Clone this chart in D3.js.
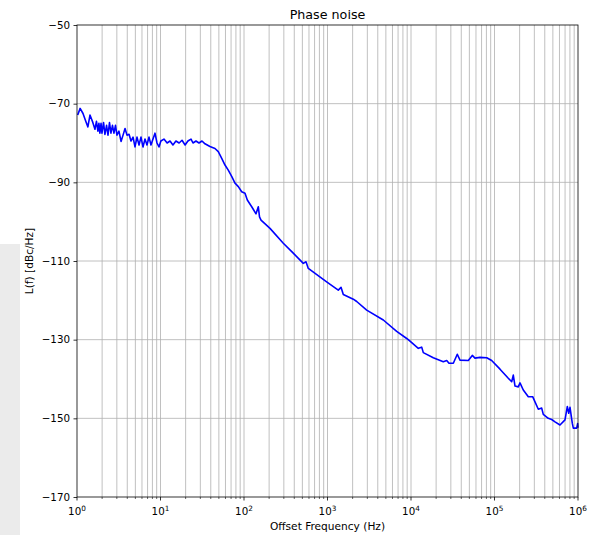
<!DOCTYPE html>
<html><head><meta charset="utf-8">
<script src="https://cdn.jsdelivr.net/npm/d3@7"></script>
<style>
html,body{margin:0;padding:0;background:#fff;}
svg{display:block;font-family:"DejaVu Sans",sans-serif;}
</style></head>
<body><svg id="c" width="590" height="535"></svg>
<script>
const freq = [1.02,1.09,1.18,1.28,1.35,1.43,1.53,1.64,1.71,1.78,1.83,1.88,1.94,1.99,2.08,2.16,2.26,2.35,2.45,2.55,2.66,2.77,2.89,3.01,3.18,3.37,3.56,3.76,3.97,4.20,4.43,4.69,4.95,5.23,5.53,5.84,6.17,6.52,6.89,7.28,7.69,8.13,8.59,9.08,9.59,10.1,11.0,12.0,13.0,14.1,15.3,16.7,18.1,19.7,21.3,23.2,24.5,26.6,28.9,31.4,34.1,39.1,44.9,49.2,54.1,59.2,64.8,71.2,78.0,85.5,93.8,102.8,109.6,123.7,139.3,148.4,153.4,159.9,204.8,295.6,389,513,553,589,977,1346,1452,1546,2037,2238,2947,4660,6741,8880,9730,12230,13430,14040,18490,24380,26790,28520,32130,35840,38620,48550,54200,58380,67000,80700,92500,116400,146300,160700,167900,176100,192800,202000,221200,254000,286500,305500,334800,367400,384000,440500,484000,530600,608500,698500,744500,774000,802000,855000,879000,964000,991000,1000000];
const noise = [-72.9,-71.2,-72.5,-74.6,-75.9,-72.9,-74.5,-76.5,-74.5,-77,-75,-77.5,-75,-77.5,-74.8,-77.8,-75.5,-78,-74.8,-77.5,-75.5,-77.5,-75.5,-78,-77,-79.6,-78,-76.3,-78,-77.8,-79.5,-78.5,-81,-78.5,-80.5,-78.5,-81,-79,-80.5,-78.5,-80.5,-79,-77.5,-80,-81,-79.5,-79,-80,-79.5,-80.5,-79.5,-80,-79.3,-80.5,-79.5,-79,-80,-79.5,-80,-79.5,-80.2,-80.9,-81.4,-82.2,-83.9,-85.6,-86.9,-88.5,-90.2,-91.1,-92.4,-92.8,-94.5,-96.2,-98.0,-96.2,-98.8,-99.6,-101.7,-105.5,-108,-110.6,-110.2,-111.9,-115.3,-117.4,-116.7,-118.5,-119.7,-120.3,-122.5,-125,-127.9,-129.7,-130.4,-132.2,-131.9,-133.3,-134.6,-135.6,-135.3,-136,-136,-133.7,-135.2,-135.3,-134,-134.7,-134.5,-134.6,-135.3,-137.5,-139.8,-140.7,-139,-141.8,-142,-141,-142.8,-144.5,-144.5,-145.8,-147.7,-147.4,-149,-150,-150.3,-150.9,-151.7,-150.4,-147,-148.7,-147.2,-151.3,-152.5,-152.5,-151.3,-152.4];
const yTicks = [-170,-150,-130,-110,-90,-70,-50];
const xTickExp = [0,1,2,3,4,5,6];
const title = "Phase noise";
const xLabel = "Offset Frequency (Hz)";
const yLabel = "L(f) [dBc/Hz]";

const svg = d3.select("#c");
const m = {l:77, r:578, t:25, b:497};
svg.append("rect").attr("x",0).attr("y",244).attr("width",20).attr("height",291).attr("fill","#ebebeb");

const x = d3.scaleLog().domain([1,1e6]).range([m.l,m.r]);
const y = d3.scaleLinear().domain([-170,-50]).range([m.b,m.t]);

const vlines = [];
for (let e=0;e<6;e++) for (let k=1;k<10;k++) vlines.push(k*Math.pow(10,e));
vlines.push(1e6);
const g = svg.append("g");
g.selectAll("line.v").data(vlines.filter(v=>v>1 && v<1e6)).join("line")
  .attr("x1",d=>x(d)).attr("x2",d=>x(d))
  .attr("y1",m.t).attr("y2",m.b).attr("stroke","#b0b0b0").attr("stroke-width",0.8);
g.selectAll("line.h").data(yTicks.filter(v=>v>-170&&v<-50)).join("line")
  .attr("x1",m.l).attr("x2",m.r)
  .attr("y1",d=>y(d)).attr("y2",d=>y(d))
  .attr("stroke","#b0b0b0").attr("stroke-width",0.8);

const data = freq.map((f,i)=>[f,noise[i]]);
svg.append("path").datum(data)
  .attr("d", d3.line().x(d=>x(d[0])).y(d=>y(d[1])))
  .attr("fill","none").attr("stroke","#0000ff").attr("stroke-width",1.6).attr("stroke-linejoin","round");

svg.append("rect").attr("x",m.l).attr("y",m.t).attr("width",m.r-m.l).attr("height",m.b-m.t)
  .attr("fill","none").attr("stroke","#000").attr("stroke-width",0.8);

const ya = svg.append("g").attr("transform",`translate(${m.l},0)`)
  .call(d3.axisLeft(y).tickValues(yTicks).tickSize(3.5).tickPadding(3.5).tickFormat(d=>String(d).replace("-","\u2212")));
ya.select(".domain").remove();
ya.selectAll("text").attr("font-size",10.3).attr("font-family","DejaVu Sans").attr("fill","#000");
ya.selectAll("line").attr("stroke","#000").attr("stroke-width",0.8);

const xa = svg.append("g").attr("transform",`translate(0,${m.b})`);
xa.selectAll("line.mn").data(vlines.filter(v=>!xTickExp.map(e=>Math.pow(10,e)).includes(v))).join("line")
  .attr("x1",d=>x(d)).attr("x2",d=>x(d)).attr("y1",0).attr("y2",2).attr("stroke","#000").attr("stroke-width",0.6);
xa.selectAll("line.mj").data(xTickExp).join("line")
  .attr("x1",d=>x(Math.pow(10,d))).attr("x2",d=>x(Math.pow(10,d))).attr("y1",0).attr("y2",3.5).attr("stroke","#000").attr("stroke-width",0.8);
const xt = xa.selectAll("text.t").data(xTickExp).join("text")
  .attr("x",d=>x(Math.pow(10,d))).attr("y",18).attr("text-anchor","middle")
  .attr("font-size",10.3).attr("fill","#000");
xt.append("tspan").text("10");
xt.append("tspan").attr("dy",-4.5).attr("font-size",7.3).text(d=>d);

svg.append("text").attr("x",(m.l+m.r)/2).attr("y",530).attr("text-anchor","middle")
  .attr("font-size",10.6).attr("fill","#000").text(xLabel);
svg.append("text").attr("transform",`translate(33,${(m.t+m.b)/2}) rotate(-90)`).attr("text-anchor","middle")
  .attr("font-size",10.6).attr("fill","#000").text(yLabel);
svg.append("text").attr("x",(m.l+m.r)/2).attr("y",19).attr("text-anchor","middle")
  .attr("font-size",12.7).attr("fill","#000").text(title);
</script></body></html>
